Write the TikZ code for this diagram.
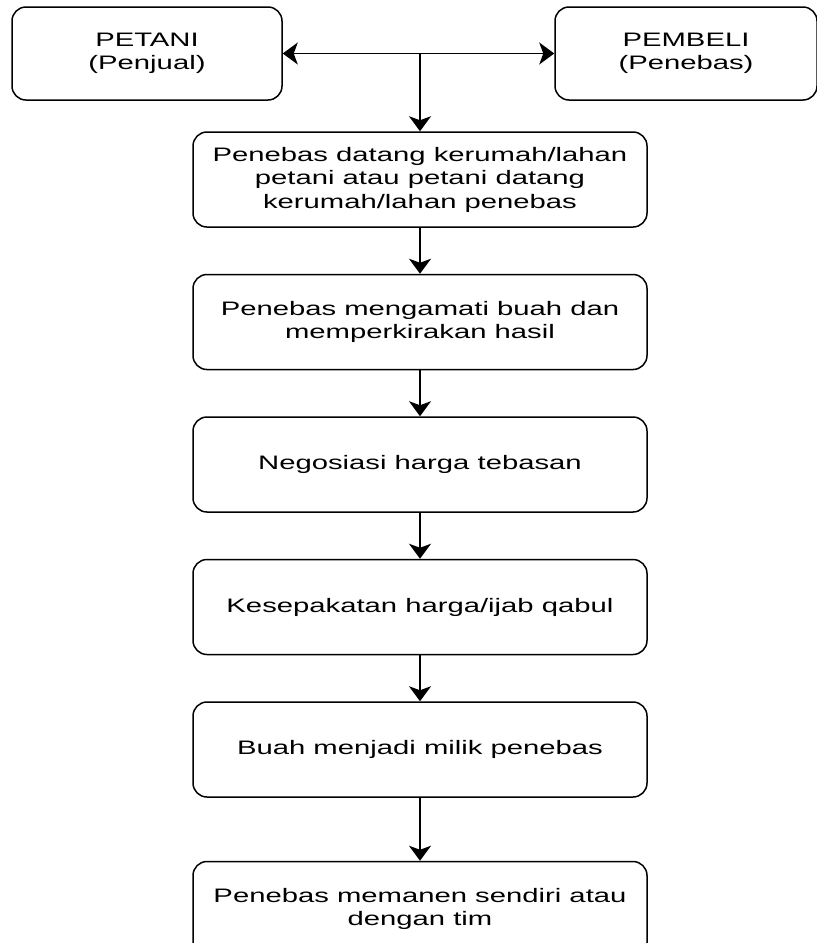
\documentclass[tikz,border=0pt]{standalone}
\usepackage{fontspec}
\setmainfont{Liberation Sans}
\newfontfamily\flowfont[FakeStretch=1.5]{Liberation Sans}
\usetikzlibrary{positioning}
\usetikzlibrary{arrows.meta}

\begin{document}
\begin{tikzpicture}[->,>={Stealth[length=15pt,width=22pt,inset=4pt]},x=1pt,y=1pt,
                node distance=46pt,line width=1.5pt,
                proc node/.style={draw,rounded corners=14pt,minimum width=454pt,
                  minimum height=95pt,align=center,
                  font=\flowfont\fontsize{19.5}{23.5}\selectfont},
                party node/.style={proc node,minimum height=93pt}]
  \useasboundingbox (0,0) rectangle (817,-943);

  \node[party node,minimum width=270pt] (petani) at (147,-53.5) {PETANI\\(Penjual)};
  \node[party node,minimum width=262pt] (pembeli) at (686,-53.5) {PEMBELI\\(Penebas)};
  \node[proc node] (datang) at (420,-179.5)
    {Penebas datang kerumah/lahan\\petani atau petani datang\\kerumah/lahan penebas};
  \node[proc node] (amati) [below=of datang] {Penebas mengamati buah dan\\memperkirakan hasil};
  \node[proc node] (nego) [below=of amati] {Negosiasi harga tebasan};
  \node[proc node] (sepakat) [below=of nego] {Kesepakatan harga/ijab qabul};
  \node[proc node] (milik) [below=of sepakat] {Buah menjadi milik penebas};
  \node[proc node] (panen) [below=63pt of milik] {Penebas memanen sendiri atau\\dengan tim};

  \coordinate (junc) at (datang.north |- petani.east);

  \draw[<->] (petani) -- (pembeli);
  \path
    (junc)    edge (datang)
    (datang)  edge (amati)
    (amati)   edge (nego)
    (nego)    edge (sepakat)
    (sepakat) edge (milik)
    (milik)   edge (panen);
\end{tikzpicture}
\end{document}
